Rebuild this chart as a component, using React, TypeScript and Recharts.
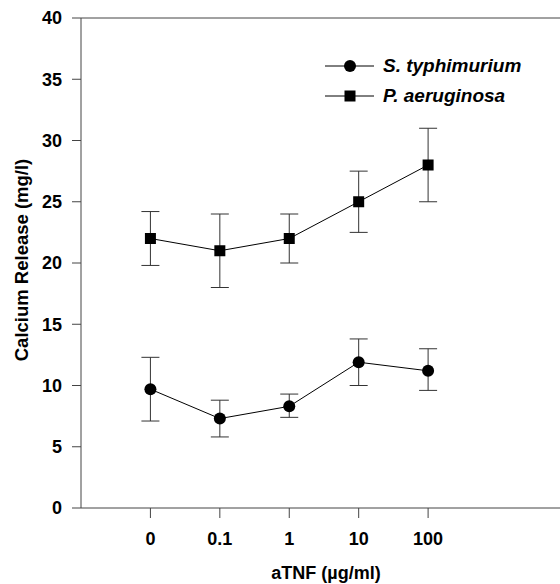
import React from 'react';
import { LineChart, Line, XAxis, YAxis, ErrorBar, ReferenceLine } from 'recharts';

const doses = ['0', '0.1', '1', '10', '100'];

const salmonellaMean = [9.7, 7.3, 8.3, 11.9, 11.2];
const salmonellaLow = [7.1, 5.8, 7.4, 10.0, 9.6];
const salmonellaHigh = [12.3, 8.8, 9.3, 13.8, 13.0];

const pseudoMean = [22.0, 21.0, 22.0, 25.0, 28.0];
const pseudoLow = [19.8, 18.0, 20.0, 22.5, 25.0];
const pseudoHigh = [24.2, 24.0, 24.0, 27.5, 31.0];

const yTicks = [0, 5, 10, 15, 20, 25, 30, 35, 40];

const data = doses.map((d, i) => ({
  x: i,
  dose: d,
  s: salmonellaMean[i],
  sErr: [salmonellaMean[i] - salmonellaLow[i], salmonellaHigh[i] - salmonellaMean[i]],
  p: pseudoMean[i],
  pErr: [pseudoMean[i] - pseudoLow[i], pseudoHigh[i] - pseudoMean[i]],
}));

const FONT = '"Liberation Sans", Arial, Helvetica, sans-serif';
const AXIS = '#444';

const SquareDot = (props: any) => {
  const { cx, cy, index } = props;
  if (cx == null || cy == null) return null;
  return <rect key={`sq-${index}`} x={cx - 5.5} y={cy - 5.5} width={11} height={11} fill="#000" />;
};

// legend drawn as overlay so it doesn't eat into the plot height
const LegendBox = () => {
  const rows = [
    { name: 'S. typhimurium', shape: 'circle' },
    { name: 'P. aeruginosa', shape: 'square' },
  ];
  return (
    <div style={{ position: 'absolute', left: 325, top: 51, fontFamily: FONT }}>
      {rows.map((r) => (
        <div key={r.name} style={{ display: 'flex', alignItems: 'center', height: 30 }}>
          <svg width={50} height={20} style={{ display: 'block' }}>
            <line x1={0} y1={10} x2={49} y2={10} stroke="#000" strokeWidth={1} />
            {r.shape === 'circle' ? (
              <circle cx={25} cy={10} r={6} fill="#000" />
            ) : (
              <rect x={19.5} y={4.5} width={11} height={11} fill="#000" />
            )}
          </svg>
          <span style={{ marginLeft: 8, fontSize: 19, fontWeight: 'bold', fontStyle: 'italic', color: '#000' }}>
            {r.name}
          </span>
        </div>
      ))}
    </div>
  );
};

export default function App() {
  return (
    <div style={{ position: 'absolute', left: 0, top: 0, width: 560, height: 584, background: '#fff' }}>
      <LineChart width={560} height={584} data={data} margin={{ top: 18, right: 0, left: 0, bottom: 0 }}>
        <XAxis
          dataKey="x"
          type="number"
          domain={[-1, 5.9]}
          allowDataOverflow
          ticks={[0, 1, 2, 3, 4]}
          tickFormatter={(v: number) => doses[v]}
          height={76}
          tickSize={10}
          tickMargin={14}
          stroke={AXIS}
          fontSize={18}
          tick={{ fill: '#000', fontSize: 18, fontWeight: 'bold', fontFamily: FONT }}
          label={{
            content: () => (
              <text x={326} y={579} textAnchor="middle" fontFamily={FONT} fontSize={18} fontWeight="bold" fill="#000">
                aTNF (µg/ml)
              </text>
            ),
          }}
        />
        <YAxis
          type="number"
          domain={[0, 40]}
          ticks={yTicks}
          width={81}
          tickSize={9}
          tickMargin={10}
          stroke={AXIS}
          fontSize={18}
          tick={{ fill: '#000', fontSize: 18, fontWeight: 'bold', fontFamily: FONT }}
          label={{
            content: () => (
              <text x={21} y={260} transform="rotate(-90 21 260)" textAnchor="middle" dominantBaseline="central" fontFamily={FONT} fontSize={18.5} fontWeight="bold" fill="#000">
                Calcium Release (mg/l)
              </text>
            ),
          }}
        />
        <ReferenceLine y={40} stroke={AXIS} strokeWidth={1} />
        <Line
          name="S. typhimurium"
          dataKey="s"
          stroke="#000"
          strokeWidth={1}
          dot={{ r: 6, fill: '#000', stroke: '#000', strokeWidth: 0 }}
          activeDot={false}
          isAnimationActive={false}
        >
          <ErrorBar dataKey="sErr" width={9} stroke="#333" strokeWidth={1} direction="y" isAnimationActive={false} />
        </Line>
        <Line
          name="P. aeruginosa"
          dataKey="p"
          stroke="#000"
          strokeWidth={1}
          dot={<SquareDot />}
          activeDot={false}
          isAnimationActive={false}
        >
          <ErrorBar dataKey="pErr" width={9} stroke="#333" strokeWidth={1} direction="y" isAnimationActive={false} />
        </Line>
      </LineChart>
      <LegendBox />
    </div>
  );
}
